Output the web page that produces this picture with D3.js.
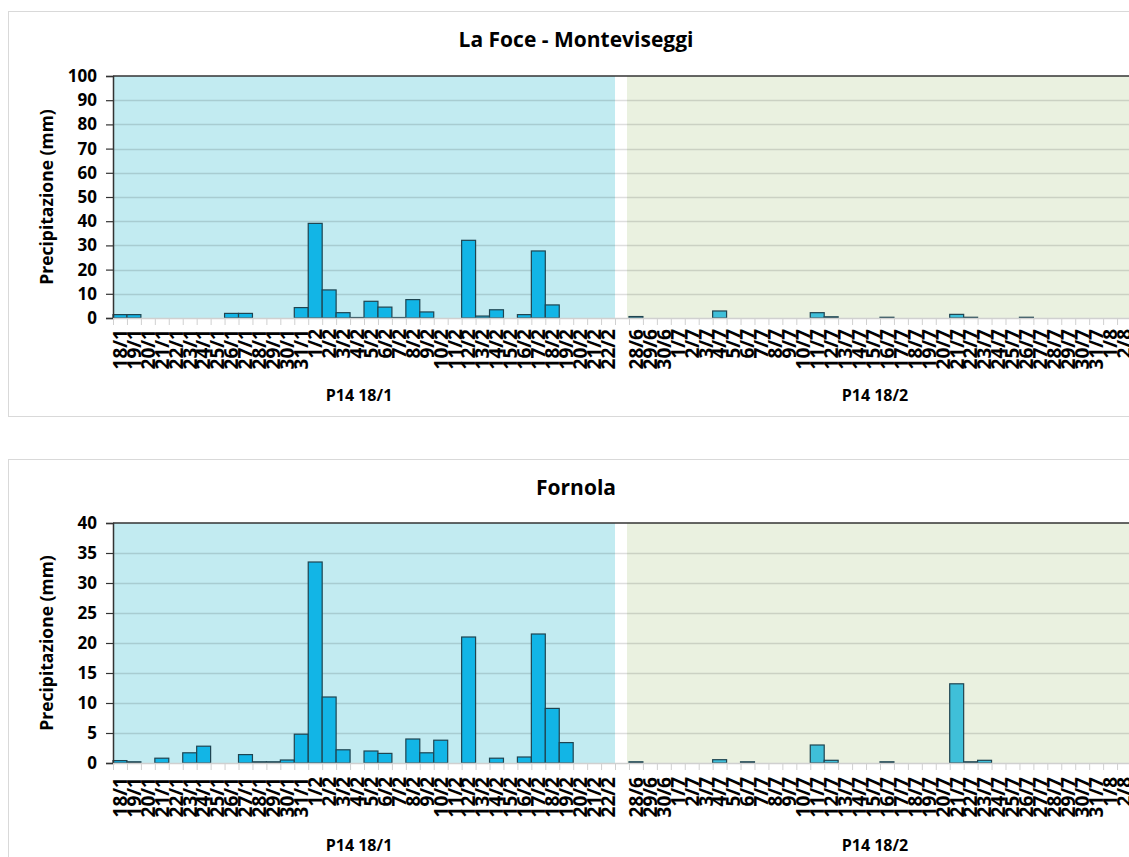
<!DOCTYPE html>
<html>
<head>
<meta charset="utf-8">
<script src="https://cdn.jsdelivr.net/npm/d3@7"></script>
<style>
  body { margin: 0; background: #fff; }
  svg { display: block; font-family: "Open Sans", sans-serif; }
</style>
</head>
<body>
<div id="chart"></div>
<script>
// categories: two campaigns with one empty slot between them
const datesA = ['18/1','19/1','20/1','21/1','22/1','23/1','24/1','25/1','26/1','27/1','28/1','29/1','30/1','31/1',
  '1/2','2/2','3/2','4/2','5/2','6/2','7/2','8/2','9/2','10/2','11/2','12/2','13/2','14/2','15/2','16/2','17/2','18/2','19/2','20/2','21/2','22/2'];
const datesB = ['28/6','29/6','30/6','1/7','2/7','3/7','4/7','5/7','6/7','7/7','8/7','9/7','10/7','11/7','12/7','13/7','14/7','15/7',
  '16/7','17/7','18/7','19/7','20/7','21/7','22/7','23/7','24/7','25/7','26/7','27/7','28/7','29/7','30/7','31/7','1/8','2/8'];
const groupNames = ['P14 18/1', 'P14 18/2'];

// precipitation (mm)
const laFoceA = [1.4,1.4,0,0,0,0,0,0,1.9,1.9,0,0,0,4.3,39.1,11.6,2.2,0.2,6.9,4.5,0.2,7.6,2.5,0,0,32.1,0.8,3.4,0,1.4,27.7,5.4,0,0,0,0];
const laFoceB = [0.6,0,0,0,0,0,2.9,0,0,0,0,0,0,2.2,0.5,0,0,0,0.3,0,0,0,0,1.5,0.3,0,0,0,0.3,0,0,0,0,0,0,0];
const fornolaA = [0.4,0.2,0,0.8,0,1.7,2.8,0,0,1.4,0.2,0.2,0.5,4.8,33.5,11.0,2.2,0,2.0,1.6,0,4.0,1.7,3.8,0,21.0,0,0.8,0,1.0,21.5,9.1,3.4,0,0,0];
const fornolaB = [0.2,0,0,0,0,0,0.55,0,0.2,0,0,0,0,3.0,0.45,0,0,0,0.2,0,0,0,0,13.2,0.2,0.45,0,0,0,0,0,0,0,0,0,0];

const W = 1129, H = 857;
const svg = d3.select('#chart').append('svg').attr('width', W).attr('height', H);

const keys = [...datesA.map(d => 'A' + d), 'gap', ...datesB.map(d => 'B' + d)];
const x = d3.scaleBand().domain(keys).range([113, 1131]).padding(0);
const bw = x.bandwidth();

function drawChart(cfg) {
  const g = svg.append('g');
  const y = d3.scaleLinear().domain([0, cfg.max]).range([cfg.bottom, cfg.top]);

  // chart frame
  g.append('rect').attr('x', 8.5).attr('y', cfg.boxTop + 0.5).attr('width', 1140).attr('height', cfg.boxH)
    .attr('fill', '#fff').attr('stroke', '#d9d9d9');

  g.append('text').attr('x', 576).attr('y', cfg.boxTop + 36).attr('text-anchor', 'middle')
    .attr('font-size', 21).attr('font-weight', 700).attr('fill', '#000').text(cfg.title);

  // backgrounds for the two campaigns
  g.append('rect').attr('x', x('A' + datesA[0])).attr('y', y(cfg.max))
    .attr('width', x('A' + datesA[datesA.length - 1]) + bw - x('A' + datesA[0]))
    .attr('height', y(0) - y(cfg.max)).attr('fill', '#c2ebf1');
  g.append('rect').attr('x', x('B' + datesB[0]) - 2).attr('y', y(cfg.max))
    .attr('width', 1131 - x('B' + datesB[0]) + 2)
    .attr('height', y(0) - y(cfg.max)).attr('fill', '#eaf1e0');

  // gridlines
  g.append('g').selectAll('line').data(y.ticks(cfg.max / cfg.step).filter(t => t > 0 && t < cfg.max))
    .join('line').attr('x1', 113).attr('x2', 1131).attr('y1', d => Math.round(y(d)) + 0.5).attr('y2', d => Math.round(y(d)) + 0.5)
    .attr('stroke', '#000').attr('stroke-opacity', 0.13).attr('stroke-width', 1.5);

  // bars
  const series = [
    { vals: cfg.a, dates: datesA, p: 'A', fill: '#12b5e6' },
    { vals: cfg.b, dates: datesB, p: 'B', fill: '#3fbfd9' }
  ];
  series.forEach(s => {
    g.append('g').selectAll('rect').data(s.vals.map((v, i) => ({ k: s.p + s.dates[i], v })).filter(d => d.v > 0))
      .join('rect')
      .attr('x', d => x(d.k)).attr('y', d => y(d.v))
      .attr('width', bw).attr('height', d => y(0) - y(d.v))
      .attr('fill', s.fill).attr('stroke', '#1f4450').attr('stroke-width', 1.2);
  });

  // top border line
  g.append('line').attr('x1', 113).attr('x2', 1131).attr('y1', y(cfg.max)).attr('y2', y(cfg.max))
    .attr('stroke', '#333').attr('stroke-width', 1.5);

  // y axis
  const yAxis = g.append('g').attr('transform', 'translate(113,0)')
    .call(d3.axisLeft(y).ticks(cfg.max / cfg.step).tickSize(7).tickPadding(9));
  yAxis.select('.domain').attr('stroke', '#333').attr('stroke-width', 1.5);
  yAxis.selectAll('.tick line').attr('stroke', '#333').attr('stroke-width', 1.2);
  yAxis.selectAll('text').attr('font-size', 17).attr('font-weight', 700).attr('fill', '#000')
    .attr('font-family', '"Open Sans", sans-serif');

  // x axis
  const xAxis = g.append('g').attr('transform', `translate(0,${cfg.bottom})`)
    .call(d3.axisBottom(x).tickSize(0).tickFormat(k => k === 'gap' ? '' : k.slice(1)));
  xAxis.select('.domain').attr('stroke', '#d0d0d0').attr('stroke-width', 1.5);
  xAxis.selectAll('text')
    .attr('font-size', 19).attr('font-weight', 700).attr('fill', '#000')
    .attr('font-family', '"Open Sans", sans-serif')
    .attr('text-anchor', 'end').attr('dy', '0.36em').attr('y', 0)
    .attr('transform', `translate(0,${cfg.labelOff}) rotate(-90)`);
  // tick marks between categories
  g.append('g').selectAll('line').data(keys)
    .join('line').attr('x1', d => x(d) + 0.5).attr('x2', d => x(d) + 0.5)
    .attr('y1', cfg.bottom).attr('y2', cfg.bottom + 7).attr('stroke', '#d0d0d0').attr('stroke-width', 1);

  // group labels
  [[datesA, 'A'], [datesB, 'B']].forEach(([ds, p], i) => {
    const cx = (x(p + ds[0]) + x(p + ds[ds.length - 1]) + bw) / 2;
    g.append('text').attr('x', cx - 5).attr('y', cfg.groupY).attr('text-anchor', 'middle')
      .attr('font-size', 16).attr('font-weight', 700).attr('fill', '#000').text(groupNames[i]);
  });

  // y axis title
  g.append('text').attr('transform', `translate(53,${(cfg.top + cfg.bottom) / 2}) rotate(-90)`)
    .attr('text-anchor', 'middle').attr('font-size', 17.5).attr('font-weight', 700).attr('fill', '#000')
    .text('Precipitazione (mm)');
}

drawChart({ title: 'La Foce - Monteviseggi', max: 100, step: 10, top: 76, bottom: 318,
  boxTop: 11, boxH: 405, labelOff: 11, groupY: 401, a: laFoceA, b: laFoceB });
drawChart({ title: 'Fornola', max: 40, step: 5, top: 523, bottom: 763,
  boxTop: 459, boxH: 420, labelOff: 14, groupY: 851, a: fornolaA, b: fornolaB });
</script>
</body>
</html>
